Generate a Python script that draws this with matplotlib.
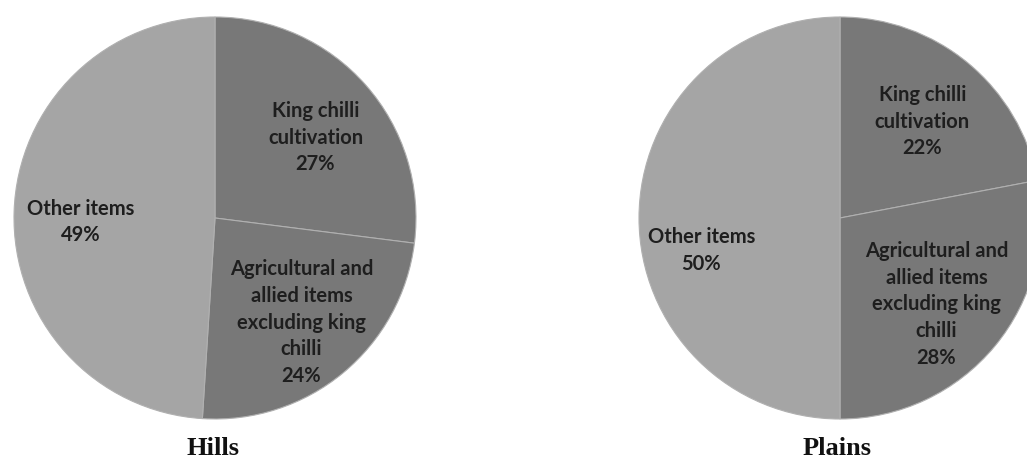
import numpy as np
import matplotlib
matplotlib.use("Agg")
import matplotlib.pyplot as plt

# Data
labels = ["King chilli\ncultivation",
          "Agricultural and\nallied items\nexcluding king\nchilli",
          "Other items"]
hills = [27, 24, 49]
plains = [22, 28, 50]
titles = ["Hills", "Plains"]

colors = ["#787878", "#787878", "#a5a5a5"]
text_color = "#1e1e1e"

W, H = 1027, 462
fig = plt.figure(figsize=(W / 100, H / 100), dpi=100)

R = 201
centers = [(215, 218), (840, 218)]
# label anchors as fraction of radius (x, y) relative to pie centre
label_pos = [
    [(0.50, 0.40), (0.43, -0.52), (-0.67, -0.02)],
    [(0.41, 0.48), (0.48, -0.43), (-0.69, -0.16)],
]
title_x = [213, 837]

for k, vals in enumerate([hills, plains]):
    cx, cy = centers[k]
    ax = fig.add_axes([(cx - R) / W, (H - cy - R) / H, 2 * R / W, 2 * R / H])
    wedges, _ = ax.pie(vals, colors=colors, startangle=90, counterclock=False,
                       wedgeprops=dict(edgecolor="#b0b0b0", linewidth=0.8))
    ax.set_xlim(-1, 1)
    ax.set_ylim(-1, 1)
    ax.axis("off")
    for i, (lab, v) in enumerate(zip(labels, vals)):
        x, y = label_pos[k][i]
        ax.text(x, y, f"{lab}\n{v}%", ha="center", va="center",
                fontsize=14.5, fontweight="bold", family="Lato",
                color=text_color, linespacing=1.42)
    fig.text(title_x[k] / W, 7 / H, titles[k], ha="center", va="baseline",
             fontsize=19, fontweight="bold", family="Liberation Serif",
             color="#111111")

fig.savefig("out.png", dpi=100)
